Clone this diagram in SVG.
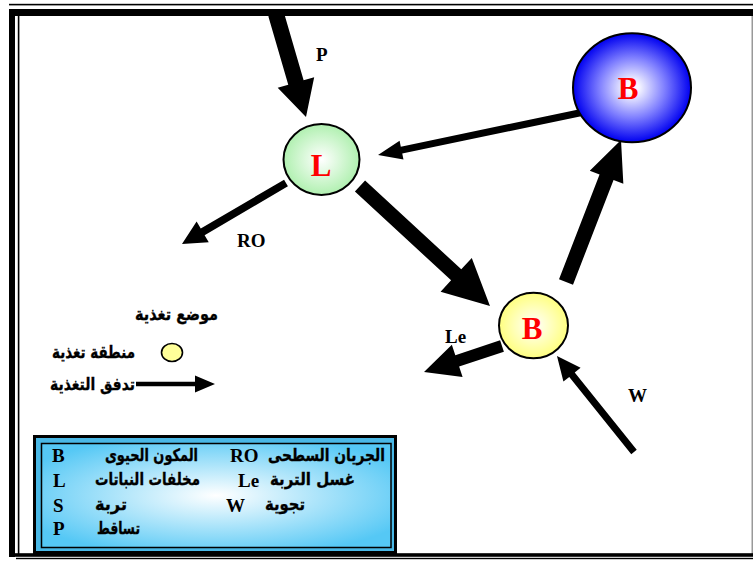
<svg xmlns="http://www.w3.org/2000/svg" width="753" height="561" viewBox="0 0 753 561">
<style>
.lbl{font-family:"Liberation Serif","Times New Roman",serif;font-weight:bold;font-size:19px;fill:#000}
.nd{font-family:"Liberation Serif","Times New Roman",serif;font-weight:bold;font-size:31px;fill:#ff0000;text-anchor:middle}
.ar{font-family:"DejaVu Sans","Noto Sans",sans-serif;font-weight:bold;font-size:17px;fill:#000;stroke:#000;stroke-width:0.35}
.arw{fill:#000}
.circ{stroke:#000;stroke-width:2}
</style>
<defs>
<radialGradient id="gGreen" cx="50%" cy="50%" r="50%">
<stop offset="0" stop-color="#ffffff"/><stop offset="1" stop-color="#b0f0b0"/>
</radialGradient>
<radialGradient id="gBlue" cx="50%" cy="50%" r="50%">
<stop offset="0" stop-color="#ffffff"/><stop offset="0.12" stop-color="#f6f6ff"/><stop offset="0.55" stop-color="#8080ff"/><stop offset="1" stop-color="#0000f0"/>
</radialGradient>
<radialGradient id="gYellow" cx="50%" cy="50%" r="50%">
<stop offset="0" stop-color="#ffffff"/><stop offset="1" stop-color="#ffff80"/>
</radialGradient>
<radialGradient id="gLegend" cx="50%" cy="50%" r="60%">
<stop offset="0" stop-color="#ffffff"/><stop offset="1" stop-color="#55c8f5"/>
</radialGradient>
</defs>

<!-- frame -->
<g id="frame">
<rect x="9" y="3.8" width="744" height="1.6" fill="#000"/>
<rect x="9" y="9" width="744" height="7" fill="#000"/>
<rect x="9" y="9" width="6" height="548" fill="#000"/>
<rect x="17.8" y="16" width="1.6" height="540" fill="#000"/>
<rect x="751.5" y="16" width="1.5" height="538" fill="#999"/>
<rect x="13" y="553.2" width="740" height="3.6" fill="#000"/>
<rect x="16" y="557.8" width="737" height="1.4" fill="#000"/>
</g>

<!-- connectors -->
<g id="connectors">
<g transform="translate(276 14) rotate(73.76)"><polygon class="arw" points="0,-8 71.3,-8 71.3,-19 107.3,0 71.3,19 71.3,8 0,8"/></g>
<g transform="translate(360 186) rotate(42.71)"><polygon class="arw" points="0,-7.5 130.9,-7.5 130.9,-23 176.9,0 130.9,23 130.9,7.5 0,7.5"/></g>
<g transform="translate(566 282) rotate(-68.83)"><polygon class="arw" points="0,-7.5 112.3,-7.5 112.3,-18 152.3,0 112.3,18 112.3,7.5 0,7.5"/></g>
<g transform="translate(584 112) rotate(168.21)"><polygon class="arw" points="0,-3.5 186.4,-3.5 186.4,-9.5 210.4,0 186.4,9.5 186.4,3.5 0,3.5"/></g>
<g transform="translate(286 183) rotate(149.6)"><polygon class="arw" points="0,-3.8 96.6,-3.8 96.6,-12 120.6,0 96.6,12 96.6,3.8 0,3.8"/></g>
<g transform="translate(502 346) rotate(161.57)"><polygon class="arw" points="0,-6 47.2,-6 47.2,-17 82.2,0 47.2,17 47.2,6 0,6"/></g>
<g transform="translate(634 452) rotate(-128.73)"><polygon class="arw" points="0,-3.5 99.1,-3.5 99.1,-11 123.1,0 99.1,11 99.1,3.5 0,3.5"/></g>
</g>

<!-- nodes -->
<g id="node-L">
<ellipse class="circ" cx="321.5" cy="159.5" rx="38" ry="35.5" fill="url(#gGreen)"/>
<text class="nd" x="321" y="176">L</text>
</g>
<g id="node-B-big">
<ellipse class="circ" cx="632" cy="87.7" rx="59" ry="54.5" fill="url(#gBlue)"/>
<text class="nd" x="628" y="99">B</text>
</g>
<g id="node-B-small">
<ellipse class="circ" cx="533.5" cy="325.5" rx="34.5" ry="32.8" fill="url(#gYellow)"/>
<text class="nd" x="532" y="338.5">B</text>
</g>

<!-- flow labels -->
<g id="labels">
<text class="lbl" x="316" y="61">P</text>
<text class="lbl" x="237" y="247">RO</text>
<text class="lbl" x="445" y="343">Le</text>
<text class="lbl" x="628" y="402">W</text>
</g>

<!-- key -->
<g id="key">
<text class="ar" x="135" y="320" textLength="83" lengthAdjust="spacingAndGlyphs">موضع تغذية</text>
<ellipse cx="172" cy="352.5" rx="10.5" ry="9" fill="#ffff99" stroke="#000" stroke-width="1.6"/>
<text class="ar" x="52" y="358" textLength="83" lengthAdjust="spacingAndGlyphs">منطقة تغذية</text>
<text class="ar" x="50" y="390" textLength="85" lengthAdjust="spacingAndGlyphs">تدفق التغذية</text>
<polygon class="arw" points="136,381.7 195,381.7 195,375.5 215,384 195,392.5 195,386.3 136,386.3"/>
</g>

<!-- legend box -->
<g id="legend">
<rect x="34.5" y="436.5" width="361" height="116" fill="#4ab8e6" stroke="#000" stroke-width="3"/>
<rect x="41.5" y="443.5" width="349.5" height="104" fill="url(#gLegend)" stroke="#000" stroke-width="1.5"/>
<text class="lbl" x="52" y="462">B</text>
<text class="ar" x="105" y="461" textLength="93" lengthAdjust="spacingAndGlyphs">المكون الحيوى</text>
<text class="lbl" x="230" y="462">RO</text>
<text class="ar" x="268" y="461" textLength="117" lengthAdjust="spacingAndGlyphs">الجريان السطحى</text>
<text class="lbl" x="53" y="487">L</text>
<text class="ar" x="95" y="485" textLength="105" lengthAdjust="spacingAndGlyphs">مخلفات النباتات</text>
<text class="lbl" x="238" y="487">Le</text>
<text class="ar" x="270" y="485" textLength="85" lengthAdjust="spacingAndGlyphs">غسل التربة</text>
<text class="lbl" x="53" y="512">S</text>
<text class="ar" x="95" y="510" textLength="32" lengthAdjust="spacingAndGlyphs">تربة</text>
<text class="lbl" x="226" y="512">W</text>
<text class="ar" x="265" y="510" textLength="40" lengthAdjust="spacingAndGlyphs">تجوية</text>
<text class="lbl" x="53" y="535">P</text>
<text class="ar" x="97" y="534" textLength="43" lengthAdjust="spacingAndGlyphs">تساقط</text>
</g>
</svg>
